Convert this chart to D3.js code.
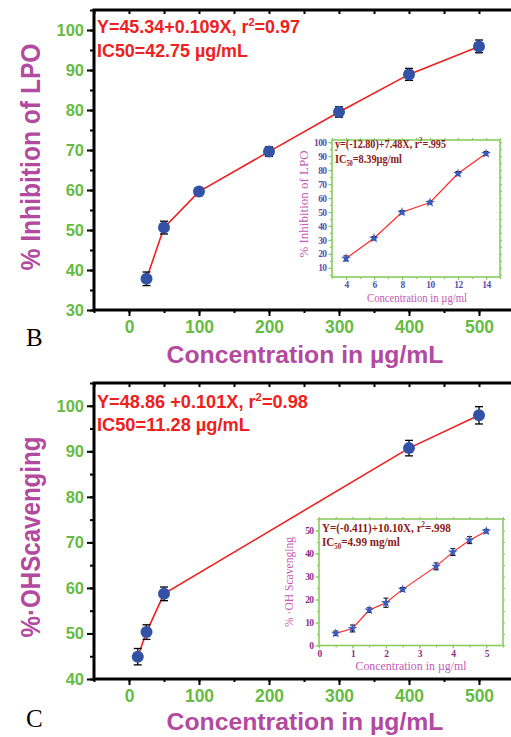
<!DOCTYPE html>
<html>
<head>
<meta charset="utf-8">
<script src="https://cdn.jsdelivr.net/npm/d3@7"></script>
<style>
  body { margin: 0; background: #fff; }
  svg { display: block; }
</style>
</head>
<body>
<div id="chart"></div>
<script>
// ---- data, panel B (LPO inhibition) ----
const lpoConc  = [25, 50, 100, 200, 300, 400, 500];
const lpoValue = [37.8, 50.6, 59.6, 69.6, 79.5, 88.9, 95.9];
const lpoErr   = [1.7, 1.6, 1.0, 1.2, 1.3, 1.5, 1.6];
const lpoYTicks = [30, 40, 50, 60, 70, 80, 90, 100];

// inset of panel B
const lpoInsetConc  = [4, 6, 8, 10, 12, 14];
const lpoInsetValue = [16.8, 31.2, 49.8, 56.8, 77.5, 91.8];
const lpoInsetErr   = [1.8, 1.2, 1.2, 1.0, 1.5, 1.4];
const lpoInsetYTicks = [10, 20, 30, 40, 50, 60, 70, 80, 90, 100];
const lpoInsetXTicks = [4, 6, 8, 10, 12, 14];

// ---- data, panel C (OH scavenging) ----
const ohConc  = [12.5, 25, 50, 400, 500];
const ohValue = [44.9, 50.3, 58.7, 90.7, 97.9];
const ohErr   = [1.8, 1.6, 1.5, 1.7, 1.9];
const ohYTicks = [40, 50, 60, 70, 80, 90, 100];

// inset of panel C
const ohInsetConc  = [0.5, 1, 1.5, 2, 2.5, 3.5, 4, 4.5, 5];
const ohInsetValue = [5.3, 7.4, 15.4, 18.6, 24.4, 34.4, 40.6, 45.8, 49.7];
const ohInsetErr   = [1.0, 1.5, 1.0, 2.0, 0.8, 1.5, 1.5, 1.5, 0.8];
const ohInsetYTicks = [0, 10, 20, 30, 40, 50];
const ohInsetXTicks = [0, 1, 2, 3, 4, 5];

const mainXTicks = [0, 100, 200, 300, 400, 500];

const W = 511, H = 737;
const green = "#66bb44", magenta = "#b24aa0", red = "#ee2020", blue = "#3352a6";
const sans = "'Liberation Sans', Arial, sans-serif";
const serif = "'Liberation Serif', 'Times New Roman', serif";

const svg = d3.select("#chart").append("svg")
  .attr("width", W).attr("height", H);

// helper: text made of plain / superscript / subscript parts,
// squeezed horizontally to the width seen in the figure
function richText(g, x, y, parts, size, len) {
  const t = g.append("text").attr("font-size", size);
  let shift = 0;
  parts.forEach(p => {
    const s = p.sup ? -0.38 * size : p.sub ? 0.25 * size : 0;
    t.append("tspan")
      .attr("dy", s - shift)
      .attr("font-size", p.sup || p.sub ? size * 0.62 : size)
      .text(p.t);
    shift = s;
  });
  const w = t.node().getComputedTextLength();
  const sx = len ? len / w : 1;
  t.attr("transform", `translate(${x},${y}) scale(${sx},1)`);
  return t;
}

// ticks only, no labels
const bare = a => { a.select(".domain").remove(); a.selectAll("text").remove(); };

// big panel
function drawMain(o) {
  const g = svg.append("g");
  const x = d3.scaleLinear().domain([-50, 550]).range([94, 514]);
  const y = d3.scaleLinear().domain(o.yDomain).range(o.yRange);
  const minorY = d3.range(o.yDomain[0], o.yDomain[1] + 0.1, 5);
  const minorX = d3.range(-50, 551, 50);

  // minor ticks on left / bottom, inward ticks on top
  g.append("g").attr("transform", `translate(${x.range()[0]},0)`)
    .call(d3.axisLeft(y).tickValues(minorY).tickSize(4)).call(bare)
    .selectAll("line").attr("stroke-width", 2);
  g.append("g").attr("transform", `translate(${x.range()[0]},0)`)
    .call(d3.axisLeft(y).tickValues(o.yTicks).tickSize(7).tickPadding(3))
    .call(a => a.select(".domain").remove())
    .call(a => a.selectAll("line").attr("stroke-width", 2))
    .call(a => a.selectAll("text").attr("fill", green).attr("font-family", sans)
      .attr("font-weight", "bold").attr("font-size", 16.5).attr("dy", "0.33em"));

  g.append("g").attr("transform", `translate(0,${y.range()[0]})`)
    .call(d3.axisBottom(x).tickValues(minorX).tickSize(3)).call(bare)
    .selectAll("line").attr("stroke-width", 2);
  g.append("g").attr("transform", `translate(0,${y.range()[0]})`)
    .call(d3.axisBottom(x).tickValues(mainXTicks).tickSize(6).tickPadding(4))
    .call(a => a.select(".domain").remove())
    .call(a => a.selectAll("line").attr("stroke-width", 2))
    .call(a => a.selectAll("text").attr("fill", green).attr("font-family", sans)
      .attr("font-weight", "bold").attr("font-size", 17.5).attr("dy", "0.75em"));

  g.append("g").attr("transform", `translate(0,${y.range()[1]})`)
    .call(d3.axisBottom(x).tickValues(minorX).tickSize(4)).call(bare)
    .selectAll("line").attr("stroke-width", 2);

  // frame
  g.append("rect")
    .attr("x", x.range()[0]).attr("y", y.range()[1])
    .attr("width", x.range()[1] - x.range()[0])
    .attr("height", y.range()[0] - y.range()[1])
    .attr("fill", "none").attr("stroke", "#000").attr("stroke-width", 3);

  // line + points
  const pts = o.conc.map((c, i) => ({ c, v: o.value[i], e: o.err[i] }));
  g.append("path").datum(pts)
    .attr("fill", "none").attr("stroke", red).attr("stroke-width", 1.6)
    .attr("d", d3.line().x(d => x(d.c)).y(d => y(d.v)));
  const eb = g.selectAll(".eb").data(pts).enter().append("g")
    .attr("stroke", "#000").attr("stroke-width", 1.3);
  eb.append("line").attr("x1", d => x(d.c)).attr("x2", d => x(d.c))
    .attr("y1", d => y(d.v - d.e)).attr("y2", d => y(d.v + d.e));
  eb.append("line").attr("x1", d => x(d.c) - 4).attr("x2", d => x(d.c) + 4)
    .attr("y1", d => y(d.v - d.e)).attr("y2", d => y(d.v - d.e));
  eb.append("line").attr("x1", d => x(d.c) - 4).attr("x2", d => x(d.c) + 4)
    .attr("y1", d => y(d.v + d.e)).attr("y2", d => y(d.v + d.e));
  g.selectAll(".pt").data(pts).enter().append("circle")
    .attr("cx", d => x(d.c)).attr("cy", d => y(d.v)).attr("r", 6)
    .attr("fill", blue);

  // equation
  const eq = g.append("g").attr("fill", red).attr("font-family", sans).attr("font-weight", "bold");
  richText(eq, 97, o.eqY[0], o.eq1, 18, o.eqLen[0]);
  richText(eq, 97, o.eqY[1], o.eq2, 18, o.eqLen[1]);

  // axis titles
  g.append("text")
    .attr("transform", `translate(40,${o.yTitleC}) rotate(-90)`)
    .attr("text-anchor", "middle").attr("fill", magenta)
    .attr("font-family", sans).attr("font-weight", "bold").attr("font-size", 27)
    .attr("textLength", o.yTitleLen).attr("lengthAdjust", "spacingAndGlyphs")
    .text(o.yTitle);
  g.append("text")
    .attr("x", 305).attr("y", o.xTitleY)
    .attr("text-anchor", "middle").attr("fill", magenta)
    .attr("font-family", sans).attr("font-weight", "bold").attr("font-size", 23)
    .attr("textLength", 277).attr("lengthAdjust", "spacingAndGlyphs")
    .text("Concentration in \u00b5g/mL");
  g.append("text")
    .attr("x", 26).attr("y", o.letterY)
    .attr("font-family", serif).attr("font-size", 25).attr("fill", "#000")
    .text(o.letter);
}

// small inset panel
function drawInset(o) {
  const g = svg.append("g");
  const x = d3.scaleLinear().domain(o.xDomain).range(o.xRange);
  const y = d3.scaleLinear().domain(o.yDomain).range(o.yRange);
  const frame = "#8acb62";

  const styleAxis = a => {
    a.select(".domain").remove();
    a.selectAll("line").attr("stroke", frame).attr("stroke-width", 1.2);
    a.selectAll("text").attr("fill", o.labelColor).attr("font-family", serif)
      .attr("font-weight", "bold").attr("font-size", 9.5).attr("letter-spacing", -0.6);
  };
  const bareInset = a => { styleAxis(a); a.selectAll("text").remove(); };
  g.append("g").attr("transform", `translate(${o.xRange[0]},0)`)
    .call(d3.axisLeft(y).tickValues(o.yMinor).tickSize(2)).call(bareInset);
  g.append("g").attr("transform", `translate(${o.xRange[0]},0)`)
    .call(d3.axisLeft(y).tickValues(o.yTicks).tickSize(3.5).tickPadding(2)
      .tickFormat(d3.format("d"))).call(styleAxis);
  g.append("g").attr("transform", `translate(${o.xRange[1]},0)`)
    .call(d3.axisRight(y).tickValues(o.yMinor).tickSize(2)).call(bareInset);
  g.append("g").attr("transform", `translate(0,${o.yRange[0]})`)
    .call(d3.axisBottom(x).tickValues(o.xMinor).tickSize(2)).call(bareInset);
  g.append("g").attr("transform", `translate(0,${o.yRange[0]})`)
    .call(d3.axisBottom(x).tickValues(o.xTicks).tickSize(3).tickPadding(1.5)
      .tickFormat(d3.format("d"))).call(styleAxis);
  g.append("g").attr("transform", `translate(0,${o.yRange[1]})`)
    .call(d3.axisTop(x).tickValues(o.xMinor).tickSize(2)).call(bareInset);

  g.append("rect")
    .attr("x", o.xRange[0]).attr("y", o.yRange[1])
    .attr("width", o.xRange[1] - o.xRange[0]).attr("height", o.yRange[0] - o.yRange[1])
    .attr("fill", "none").attr("stroke", frame).attr("stroke-width", 1.6);

  const pts = o.conc.map((c, i) => ({ c, v: o.value[i], e: o.err[i] }));
  g.append("path").datum(pts)
    .attr("fill", "none").attr("stroke", "#ff2a2a").attr("stroke-width", 1.2)
    .attr("d", d3.line().x(d => x(d.c)).y(d => y(d.v)));
  const eb = g.selectAll(".eb").data(pts).enter().append("g")
    .attr("stroke", "#000").attr("stroke-width", 1);
  eb.append("line").attr("x1", d => x(d.c)).attr("x2", d => x(d.c))
    .attr("y1", d => y(d.v - d.e)).attr("y2", d => y(d.v + d.e));
  [-1, 1].forEach(s => {
    eb.append("line").attr("x1", d => x(d.c) - 2.5).attr("x2", d => x(d.c) + 2.5)
      .attr("y1", d => y(d.v + s * d.e)).attr("y2", d => y(d.v + s * d.e));
  });
  g.selectAll(".st").data(pts).enter().append("path")
    .attr("transform", d => `translate(${x(d.c)},${y(d.v)})`)
    .attr("d", d3.symbol(d3.symbolStar, 30))
    .attr("fill", "#3a5cc0");

  const eq = g.append("g").attr("fill", "#8b1a1a").attr("font-family", serif).attr("font-weight", "bold");
  richText(eq, o.xRange[0] + 3, o.eqY[0], o.eq1, 12, o.eqLen[0]);
  richText(eq, o.xRange[0] + 3, o.eqY[1], o.eq2, 12, o.eqLen[1]);

  g.append("text")
    .attr("transform", `translate(${o.yTitleX},${o.yTitleC}) rotate(-90)`)
    .attr("text-anchor", "middle").attr("fill", "#c45ab4")
    .attr("font-family", serif).attr("font-size", 11.5)
    .attr("textLength", o.yTitleLen).attr("lengthAdjust", "spacingAndGlyphs")
    .text(o.yTitle);
  g.append("text")
    .attr("x", o.xTitleC).attr("y", o.xTitleY)
    .attr("text-anchor", "middle").attr("fill", "#c45ab4")
    .attr("font-family", serif).attr("font-size", 11.5)
    .attr("textLength", o.xTitleLen).attr("lengthAdjust", "spacingAndGlyphs")
    .text("Concentration in \u00b5g/ml");
}

// panel B
drawMain({
  conc: lpoConc, value: lpoValue, err: lpoErr, yTicks: lpoYTicks,
  yDomain: [30, 105], yRange: [310, 10],
  eq1: [{ t: "Y=45.34+0.109X, r" }, { t: "2", sup: true }, { t: "=0.97" }],
  eq2: [{ t: "IC50=42.75 \u00b5g/mL" }],
  eqY: [33, 57], eqLen: [203, 151],
  yTitle: "% Inhibition of LPO", yTitleC: 157, yTitleLen: 227,
  xTitleY: 363, letter: "B", letterY: 346
});
drawInset({
  conc: lpoInsetConc, value: lpoInsetValue, err: lpoInsetErr,
  xDomain: [3, 15], xRange: [332, 500], yDomain: [3.5, 101.5], yRange: [277, 140],
  yTicks: lpoInsetYTicks, yMinor: d3.range(5, 101, 5),
  xTicks: lpoInsetXTicks, xMinor: d3.range(3, 16, 1),
  labelColor: "#5a4fa8",
  eq1: [{ t: "y=(-12.80)+7.48X, r" }, { t: "2", sup: true }, { t: "=.995" }],
  eq2: [{ t: "IC" }, { t: "50", sub: true }, { t: "=8.39\u00b5g/ml" }],
  eqY: [148, 163], eqLen: [111, 67],
  yTitle: "% Inhibition of LPO", yTitleX: 308, yTitleC: 204, yTitleLen: 107,
  xTitleC: 417, xTitleY: 302, xTitleLen: 100
});

// panel C
drawMain({
  conc: ohConc, value: ohValue, err: ohErr, yTicks: ohYTicks,
  yDomain: [40, 105], yRange: [679, 383],
  eq1: [{ t: "Y=48.86 +0.101X, r" }, { t: "2", sup: true }, { t: "=0.98" }],
  eq2: [{ t: "IC50=11.28 \u00b5g/mL" }],
  eqY: [408, 431], eqLen: [211, 153],
  yTitle: "%\u00b7OHScavenging", yTitleC: 537, yTitleLen: 201,
  xTitleY: 730, letter: "C", letterY: 727
});
drawInset({
  conc: ohInsetConc, value: ohInsetValue, err: ohInsetErr,
  xDomain: [0, 5.5], xRange: [319, 503], yDomain: [0, 55], yRange: [645.5, 519],
  yTicks: ohInsetYTicks, yMinor: d3.range(0, 56, 5),
  xTicks: ohInsetXTicks, xMinor: d3.range(0, 5.6, 0.5),
  labelColor: "#8b2c8b",
  eq1: [{ t: "Y=(-0.411)+10.10X, r" }, { t: "2", sup: true }, { t: "=.998" }],
  eq2: [{ t: "IC" }, { t: "50", sub: true }, { t: "=4.99 mg/ml" }],
  eqY: [532, 546], eqLen: [129, 78],
  yTitle: "% \u00b7OH Scavenging", yTitleX: 293, yTitleC: 582, yTitleLen: 90,
  xTitleC: 411, xTitleY: 670, xTitleLen: 111
});
</script>
</body>
</html>
